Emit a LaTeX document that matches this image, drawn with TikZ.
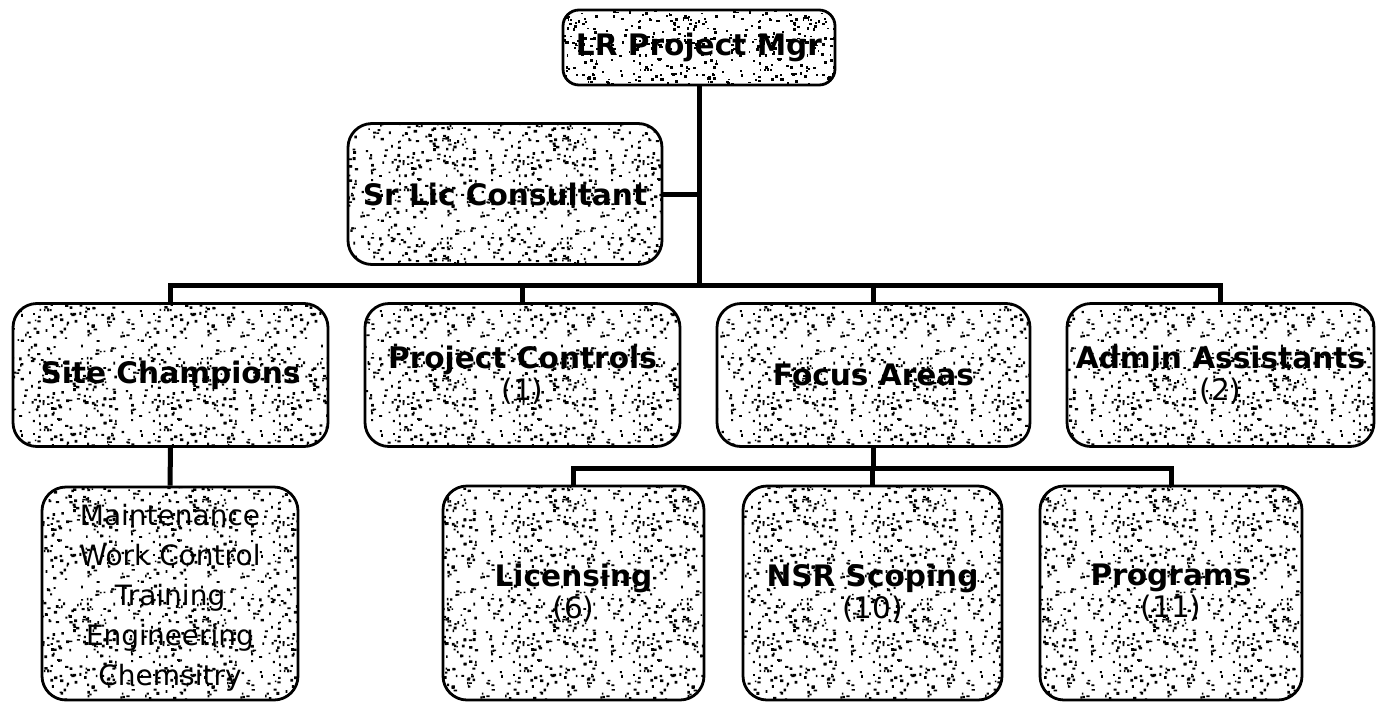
\documentclass[tikz,border=0pt]{standalone}
\usepackage{fontspec}
\setmainfont{DejaVu Sans}
\usetikzlibrary{patterns}
\pgfdeclarepatternformonly{speckle}{\pgfpointorigin}{\pgfpoint{60pt}{60pt}}{\pgfpoint{60pt}{60pt}}{%
  \pgfmathsetseed{4711}%
  \foreach \k in {1,...,260}{%
    \pgfmathsetmacro\spx{rnd*58}%
    \pgfmathsetmacro\spy{rnd*58}%
    \pgfmathsetmacro\spw{0.7+rnd*1.0}%
    \pgfmathsetmacro\sph{0.7+rnd*0.8}%
    \pgfpathrectangle{\pgfpoint{\spx pt}{\spy pt}}{\pgfpoint{\spw pt}{\sph pt}}%
    \pgfusepath{fill}%
  }%
}
\tikzset{
  x=0.5pt, y=-0.5pt,
  box/.style n args={2}{draw, line width=1.4pt, rounded corners=12pt,
     preaction={fill=white}, pattern=speckle, pattern color=black,
     minimum width=#1*0.5pt, minimum height=#2*0.5pt, inner sep=0pt, align=center},
  title/.style={font=\fontsize{14.8}{16}\selectfont\bfseries},
  plain/.style={font=\fontsize{14}{20}\selectfont},
  link/.style={line width=2.5pt},
}
\begin{document}
\begin{tikzpicture}
\useasboundingbox (0,0) rectangle (1376,702);
% nodes
\node[box={272}{75}, rounded corners=8pt, title] (top) at (699,47.5) {LR Project Mgr};
\node[box={314}{141}, title] (sr) at (505,194) {Sr Lic Consultant};
\node[box={315}{143}, title] (site) at (170.5,375) {Site Champions};
\node[box={315}{143}, title] (pc) at (522.5,375) {Project Controls\\\mdseries(1)};
\node[box={313}{143}, title] (fa) at (873.5,375) {Focus Areas};
\node[box={307}{143}, title] (adm) at (1220.5,375) {Admin Assistants\\\mdseries(2)};
\node[box={256}{213}, plain] (subs) at (170,593.5) {\rule{0pt}{15pt}Maintenance\\Work Control\\Training\\Engineering\\Chemsitry};
\node[box={261}{214}, title] (lic) at (573.5,593) {Licensing\\\mdseries(6)};
\node[box={259}{214}, title] (nsr) at (872.5,593) {NSR Scoping\\\mdseries(10)};
\node[box={262}{214}, title] (prog) at (1171,593) {Programs\\\mdseries(11)};
% connectors
\coordinate (bar) at (699,285);
\coordinate (fbar) at (872,468);
\draw[link] (top.south) -- (top.south |- bar);
\draw[link] (sr.east) -- (sr.east -| top.south);
\draw[link] (site.north) -- (site.north |- bar) -- (adm.north |- bar) -- (adm.north);
\draw[link] (pc.north) -- (pc.north |- bar);
\draw[link] (fa.north) -- (fa.north |- bar);
\draw[link] (site.south) -- (subs.north);
\draw[link] (fa.south) -- (fa.south |- fbar);
\draw[link] (lic.north) -- (lic.north |- fbar) -- (prog.north |- fbar) -- (prog.north);
\draw[link] (nsr.north) -- (nsr.north |- fbar);
\end{tikzpicture}
\end{document}
